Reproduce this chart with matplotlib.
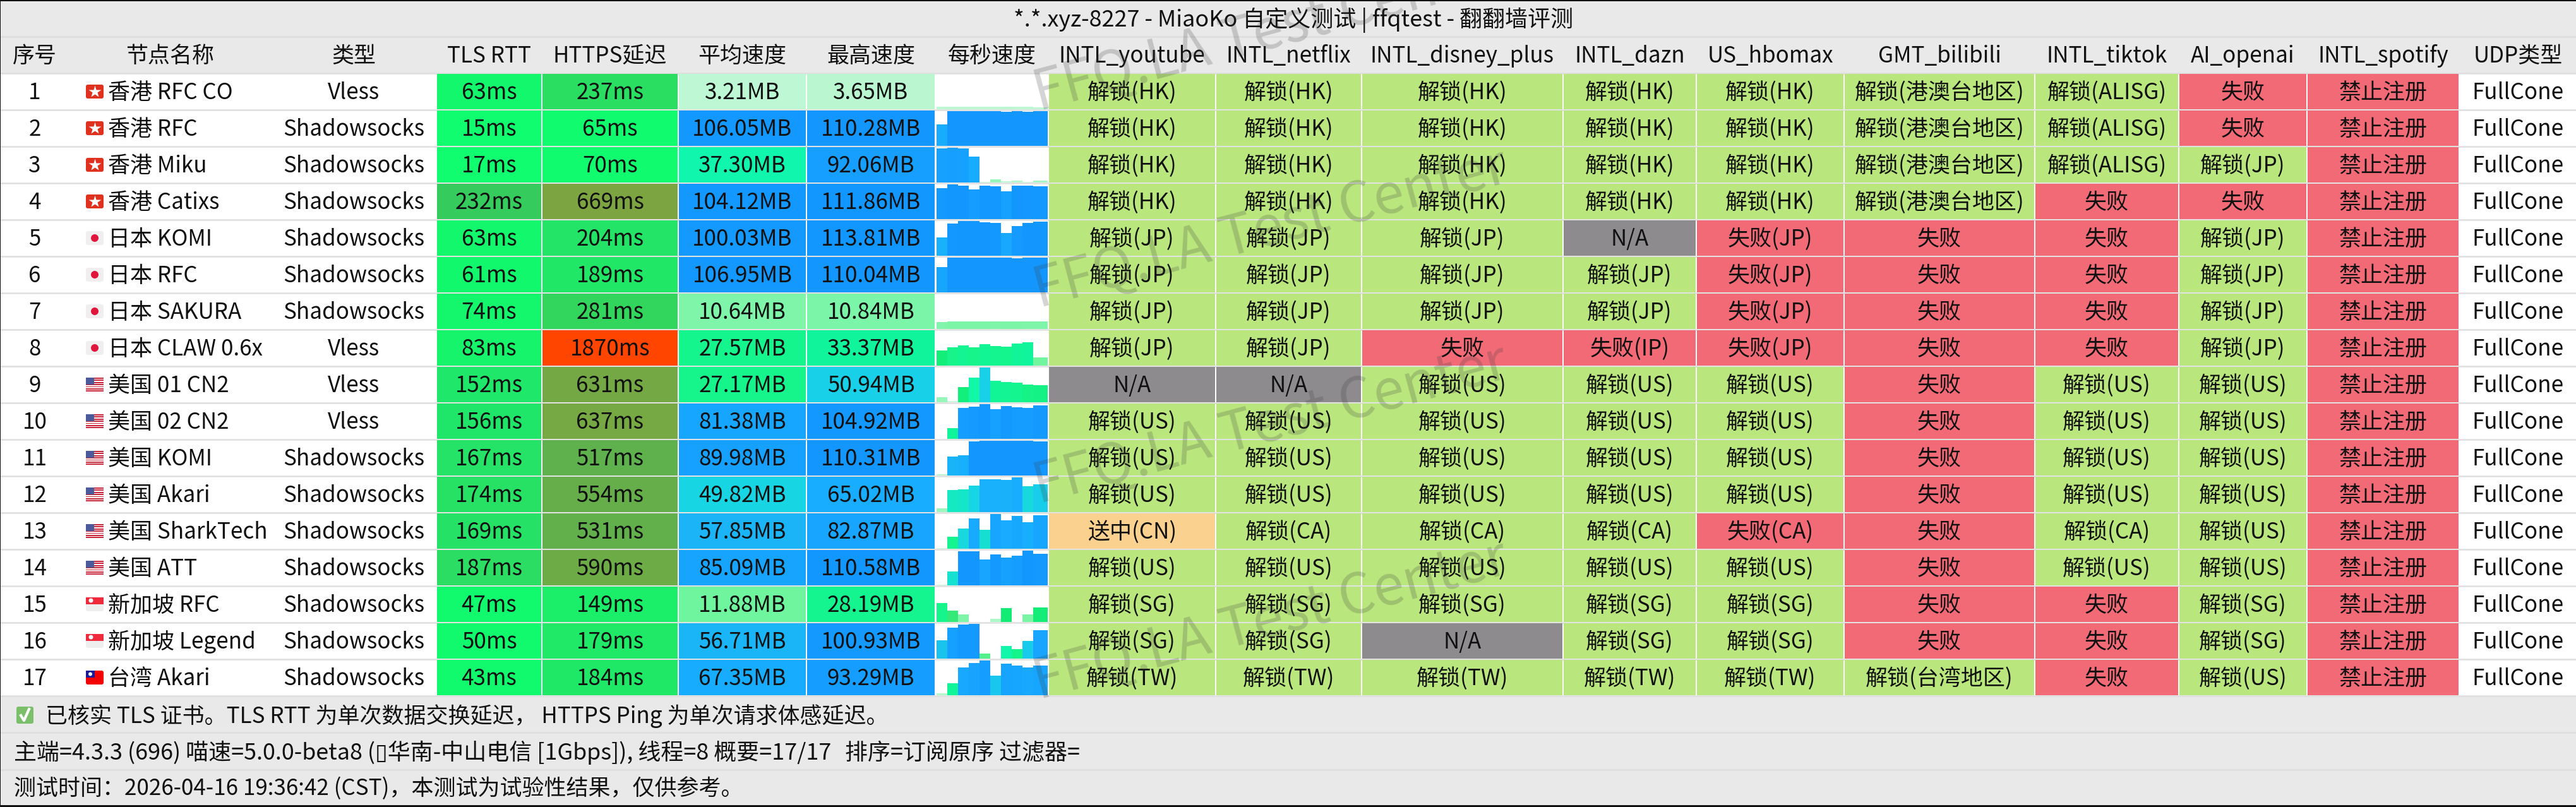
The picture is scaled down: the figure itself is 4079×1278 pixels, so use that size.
#MiaoKo speed test result table
import numpy as np
import matplotlib
matplotlib.use("Agg")
import matplotlib.pyplot as plt
from matplotlib.colors import to_rgb
from matplotlib.patches import Rectangle, FancyBboxPatch, Circle

plt.rcParams['font.family'] = ['Noto Sans CJK SC', 'DejaVu Sans']

title = "*.*.xyz-8227 - MiaoKo 自定义测试 | ffqtest - 翻翻墙评测"
headers = ["序号", "节点名称", "类型", "TLS RTT", "HTTPS延迟", "平均速度", "最高速度", "每秒速度",
           "INTL_youtube", "INTL_netflix", "INTL_disney_plus", "INTL_dazn", "US_hbomax",
           "GMT_bilibili", "INTL_tiktok", "AI_openai", "INTL_spotify", "UDP类型"]

flags = ["HK"] * 4 + ["JP"] * 4 + ["US"] * 6 + ["SG"] * 2 + ["TW"]
names = ["香港 RFC CO", "香港 RFC", "香港 Miku", "香港 Catixs", "日本 KOMI", "日本 RFC", "日本 SAKURA",
         "日本 CLAW 0.6x", "美国 01 CN2", "美国 02 CN2", "美国 KOMI", "美国 Akari", "美国 SharkTech",
         "美国 ATT", "新加坡 RFC", "新加坡 Legend", "台湾 Akari"]
types = ["Vless", "Shadowsocks", "Shadowsocks", "Shadowsocks", "Shadowsocks", "Shadowsocks", "Shadowsocks",
         "Vless", "Vless", "Vless", "Shadowsocks", "Shadowsocks", "Shadowsocks", "Shadowsocks",
         "Shadowsocks", "Shadowsocks", "Shadowsocks"]
tls_rtt = [63, 15, 17, 232, 63, 61, 74, 83, 152, 156, 167, 174, 169, 187, 47, 50, 43]
https_ping = [237, 65, 70, 669, 204, 189, 281, 1870, 631, 637, 517, 554, 531, 590, 149, 179, 184]
avg_speed = [3.21, 106.05, 37.30, 104.12, 100.03, 106.95, 10.64, 27.57, 27.17, 81.38, 89.98, 49.82,
             57.85, 85.09, 11.88, 56.71, 67.35]
max_speed = [3.65, 110.28, 92.06, 111.86, 113.81, 110.04, 10.84, 33.37, 50.94, 104.92, 110.31, 65.02,
             82.87, 110.58, 28.19, 100.93, 93.29]
per_second = [
    [3.2, 3.4, 3.4, 3.3, 3.3, 3.3, 3.6, 3.3, 3.2, 3.1],
    [68, 110, 110, 110, 110, 110, 109, 110, 109, 110],
    [90.5, 92, 90, 68, 2.5, 7.6, 3, 4.4, 1.5, 5.7],
    [99, 112, 108, 95, 107, 106, 90, 108, 107, 106],
    [61, 105, 114, 113, 110, 107, 74, 97, 108, 111],
    [81, 110, 110, 110, 110, 110, 110, 109, 110, 110],
    [10.2, 10.8, 10.7, 10.8, 10.7, 10.6, 10.7, 10.8, 10.6, 10.6],
    [21.7, 26.5, 29, 26.5, 30.7, 28.6, 27.6, 32, 33.3, 11.7],
    [7.7, 1.5, 22, 36, 51, 31.6, 30, 28.5, 25.6, 25],
    [0.5, 33, 93, 97, 105, 90, 98.5, 95, 93.5, 102],
    [4, 59.5, 63.5, 109, 110, 110, 110, 110, 110, 109],
    [7, 41.7, 43, 50, 61.5, 61.5, 60.5, 65, 48, 51.5],
    [2, 29, 48, 72.5, 45.5, 83, 68, 79, 64, 80],
    [3, 45, 108, 108, 83, 98, 89, 95, 110.5, 101],
    [27, 16.5, 10.5, 0.3, 0.3, 5, 20, 0.3, 11, 21],
    [53.5, 90.5, 99, 100.9, 14, 0.3, 37, 27, 52, 82.7],
    [4.5, 32, 74, 86.5, 93.3, 53, 85, 80, 75, 80],
]
youtube = ["解锁(HK)"] * 4 + ["解锁(JP)"] * 4 + ["N/A"] + ["解锁(US)"] * 3 + ["送中(CN)", "解锁(US)"] + ["解锁(SG)"] * 2 + ["解锁(TW)"]
netflix = ["解锁(HK)"] * 4 + ["解锁(JP)"] * 4 + ["N/A"] + ["解锁(US)"] * 3 + ["解锁(CA)", "解锁(US)"] + ["解锁(SG)"] * 2 + ["解锁(TW)"]
disney = ["解锁(HK)"] * 4 + ["解锁(JP)"] * 3 + ["失败"] + ["解锁(US)"] * 4 + ["解锁(CA)", "解锁(US)", "解锁(SG)", "N/A", "解锁(TW)"]
dazn = ["解锁(HK)"] * 4 + ["N/A", "解锁(JP)", "解锁(JP)", "失败(IP)"] + ["解锁(US)"] * 4 + ["解锁(CA)", "解锁(US)"] + ["解锁(SG)"] * 2 + ["解锁(TW)"]
hbomax = ["解锁(HK)"] * 4 + ["失败(JP)"] * 4 + ["解锁(US)"] * 4 + ["失败(CA)", "解锁(US)"] + ["解锁(SG)"] * 2 + ["解锁(TW)"]
bilibili = ["解锁(港澳台地区)"] * 4 + ["失败"] * 12 + ["解锁(台湾地区)"]
tiktok = ["解锁(ALISG)"] * 3 + ["失败"] * 5 + ["解锁(US)"] * 4 + ["解锁(CA)", "解锁(US)"] + ["失败"] * 3
openai = ["失败", "失败", "解锁(JP)", "失败"] + ["解锁(JP)"] * 4 + ["解锁(US)"] * 6 + ["解锁(SG)"] * 2 + ["解锁(US)"]
spotify = ["禁止注册"] * 17
udp = ["FullCone"] * 17
footer_note = "已核实 TLS 证书。TLS RTT 为单次数据交换延迟， HTTPS Ping 为单次请求体感延迟。"
footer_info = "主端=4.3.3 (696) 喵速=5.0.0-beta8 (▯华南-中山电信 [1Gbps]), 线程=8 概要=17/17"
footer_sort = "排序=订阅原序 过滤器="
footer_time = "测试时间：2026-04-16 19:36:42 (CST)，本测试为试验性结果，仅供参考。"

edges = [0, 110, 429, 691, 858, 1074, 1277, 1481, 1660, 1925, 2156, 2475, 2686, 2920, 3222, 3450, 3653, 3894, 4080]
header_top = 59
row_top = 117
row_h = 58
font_px = 25.2
ink = "#111111"
panel = "#e9e9e9"
line = "#dedede"

tls_scale = ([15, 60, 150, 190, 240], ["#0ffd6e", "#12f86c", "#1de869", "#2ddc62", "#38c85c"])
https_scale = ([60, 200, 280, 520, 670, 1000, 1870], ["#0ffd6e", "#22e566", "#32d65c", "#5fb14c", "#7ca542", "#c07a28", "#ff4500"])
speed_scale = ([0, 3.4, 10.7, 12, 16, 20, 27, 33, 37, 45, 50, 56, 65, 85, 100, 114],
               ["#d8f8e4", "#bcf7d2", "#7df5a8", "#6ef59c", "#38ea7a", "#12ec74", "#16f58c", "#10f59a", "#10f7ab",
                "#16e0d0", "#18d5e5", "#1ab6f5", "#18adff", "#17a4ff", "#1499ff", "#1296ff"])
status_colors = {"解锁": "#b9e77d", "失败": "#f16a76", "禁止": "#f16a76", "送中": "#fbd190", "N/A": "#8d8b8e"}


def ramp(value, scale):
    xs, cols = scale
    rgb = np.array([to_rgb(c) for c in cols])
    return tuple(np.interp(value, xs, rgb[:, i]) for i in range(3))


def cell(ax, col, row, color):
    # keeps the thin gaps the table has between its coloured cells
    y = row_top + row * row_h
    ax.add_patch(Rectangle((edges[col] + 1, y), edges[col + 1] - edges[col] - 2, row_h - 2, fc=color, ec="none", zorder=1))


def label(ax, col, row, text):
    ax.text((edges[col] + edges[col + 1]) / 2, row_top + row * row_h + 40, text, ha="center", va="baseline",
            fontsize=font_px, color=ink, zorder=4)


def draw_flag(ax, code, y):
    x0, w, h = 136, 28, 22
    y0 = y - h / 2
    base = {"HK": "#e0301e", "JP": "#f0eeee", "US": "#ffffff", "SG": "#eeeeee", "TW": "#f40000"}[code]
    box = FancyBboxPatch((x0 + 1, y0 + 1), w - 2, h - 2, boxstyle="round,pad=1,rounding_size=3", fc=base, ec="none", zorder=2)
    ax.add_patch(box)
    if code == "HK":
        ax.plot(x0 + w / 2, y, marker="*", ms=15, color="#ffffff", mec="none", zorder=3)
    elif code == "JP":
        ax.add_patch(Circle((x0 + w / 2, y), 6, fc="#e0163c", ec="none", zorder=3))
    elif code == "US":
        for i in range(0, 7):
            ax.add_patch(Rectangle((x0, y0 + i * 3.4), w, 1.7, fc="#c8283c", ec="none", zorder=3))
        ax.add_patch(Rectangle((x0, y0), 13, 11, fc="#4a5a9a", ec="none", zorder=3))
    elif code == "SG":
        ax.add_patch(Rectangle((x0, y0), w, h / 2, fc="#ee2a3c", ec="none", zorder=3))
        ax.add_patch(Circle((x0 + 8, y0 + 5), 3.5, fc="#ffffff", ec="none", zorder=4))
    elif code == "TW":
        ax.add_patch(Rectangle((x0, y0), 14, 11, fc="#1a1a9a", ec="none", zorder=3))
        ax.add_patch(Circle((x0 + 7, y0 + 5.5), 3, fc="#ffffff", ec="none", zorder=4))


fig = plt.figure(figsize=(40.8, 12.78), dpi=100, facecolor="white")
ax = fig.add_axes([0, 0, 1, 1])
ax.set_xlim(0, 4080)
ax.set_ylim(1278, 0)
ax.axis("off")

rows = len(names)
table_bottom = row_top + rows * row_h

# bands behind the title, the header and the footer
ax.add_patch(Rectangle((0, 0), 4080, row_top, fc=panel, ec="none", zorder=0))
ax.add_patch(Rectangle((0, table_bottom), 4080, 1278 - table_bottom, fc=panel, ec="none", zorder=0))
ax.text(2048, 42, title, ha="center", va="baseline", fontsize=25.9, color=ink, zorder=4)
ax.plot([0, 4080], [header_top - 1, header_top - 1], color=line, lw=2, zorder=1)
for i, head in enumerate(headers):
    ax.text((edges[i] + edges[i + 1]) / 2, header_top + 40, head, ha="center", va="baseline",
            fontsize=font_px, color=ink, zorder=4)

for r in range(rows + 1):
    y = row_top + r * row_h - 1
    ax.plot([0, 4080], [y, y], color=line, lw=1.8, zorder=0.5)

status_cols = {8: youtube, 9: netflix, 10: disney, 11: dazn, 12: hbomax, 13: bilibili, 14: tiktok, 15: openai, 16: spotify}

for r in range(rows):
    top = row_top + r * row_h
    label(ax, 0, r, str(r + 1))
    draw_flag(ax, flags[r], top + 28)
    ax.text(171, top + 40, names[r], ha="left", va="baseline", fontsize=font_px, color=ink, zorder=4)
    label(ax, 2, r, types[r])

    cell(ax, 3, r, ramp(tls_rtt[r], tls_scale))
    label(ax, 3, r, "%dms" % tls_rtt[r])
    cell(ax, 4, r, ramp(https_ping[r], https_scale))
    label(ax, 4, r, "%dms" % https_ping[r])
    cell(ax, 5, r, ramp(avg_speed[r], speed_scale))
    label(ax, 5, r, "%.2fMB" % avg_speed[r])
    cell(ax, 6, r, ramp(max_speed[r], speed_scale))
    label(ax, 6, r, "%.2fMB" % max_speed[r])

    # per second bars: full height means the row maximum, or 50MB when the row stays below that
    full = max(50, max(per_second[r]))
    base = top + row_h - 2
    lefts = [1483 + 17 * i for i in range(10)]
    widths = [17] * 9 + [23]
    heights = [-v / full * (row_h - 3) for v in per_second[r]]
    bar_colors = [ramp(v, speed_scale) for v in per_second[r]]
    ax.bar(lefts, heights, widths, bottom=base, align="edge", color=bar_colors, linewidth=0, zorder=2)

    for col, values in status_cols.items():
        cell(ax, col, r, status_colors[values[r][:2] if values[r] != "N/A" else "N/A"])
        label(ax, col, r, values[r])
    label(ax, 17, r, udp[r])

# watermark goes over the table
for y in [176, 488, 798, 1108]:
    ax.text(1645, y, "FFQ.LA Test Center", rotation=15, rotation_mode="anchor", ha="left", va="baseline",
            fontsize=63, color="#3a3a3a", alpha=0.22, zorder=5)

# footer
ax.plot([0, 4080], [1160, 1160], color=line, lw=1.8, zorder=1)
ax.plot([0, 4080], [1219, 1219], color=line, lw=1.8, zorder=1)
ax.add_patch(FancyBboxPatch((27, 1120), 25, 25, boxstyle="round,pad=1,rounding_size=3", fc="#7cbf6a", ec="none", zorder=2))
ax.plot([33, 38, 46], [1133, 1141, 1123], color="white", lw=3, zorder=3)
ax.text(72, 1145, footer_note, ha="left", va="baseline", fontsize=font_px, color=ink, zorder=4)
ax.text(22, 1203, footer_info, ha="left", va="baseline", fontsize=25.9, color=ink, zorder=4)
ax.text(1338, 1203, footer_sort, ha="left", va="baseline", fontsize=25.9, color=ink, zorder=4)
ax.text(22, 1259, footer_time, ha="left", va="baseline", fontsize=font_px, color=ink, zorder=4)

# the screenshot has a dark edge on three sides
ax.add_patch(Rectangle((0, 0), 4080, 2, fc="#111111", ec="none", zorder=6))
ax.add_patch(Rectangle((0, 1275), 4080, 3, fc="#111111", ec="none", zorder=6))
ax.add_patch(Rectangle((0, 0), 1.5, 1278, fc="#111111", ec="none", zorder=6))

fig.savefig("out.png", dpi=100)
